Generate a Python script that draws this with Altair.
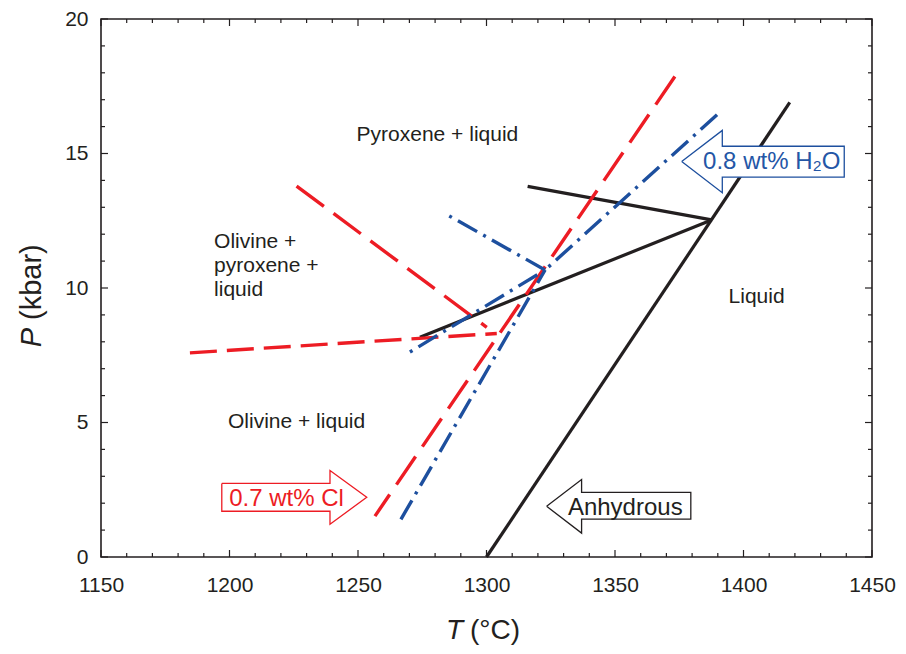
import altair as alt
import pandas as pd

# ---------------- data ----------------
# phase-boundary lines: T (°C), P (kbar)
anhydrous_T = [1300.0, 1418.0]
anhydrous_P = [0.0, 16.9]
blk_lower_T = [1274.1, 1387.6]
blk_lower_P = [8.17, 12.53]
blk_upper_T = [1316.0, 1387.6]
blk_upper_P = [13.78, 12.53]

red_steep_T = [1373.3, 1256.6]
red_steep_P = [17.86, 1.52]
red_diag_T = [1226.1, 1300.1]
red_diag_P = [13.79, 8.54]
red_horiz_T = [1184.6, 1304.0]
red_horiz_P = [7.59, 8.31]

blue_steep_T = [1266.7, 1322.8]
blue_steep_P = [1.40, 10.67]
blue_up_T = [1389.7, 1322.8]
blue_up_P = [16.44, 10.67]
blue_ll_T = [1270.2, 1322.8]
blue_ll_P = [7.62, 10.67]
blue_ul_T = [1285.5, 1322.8]
blue_ul_P = [12.68, 10.67]

# annotation arrows (outline polygons in data units)
arrow_anhyd_T = [1323.4, 1337.0, 1337.0, 1379.5, 1379.5, 1337.0, 1337.0, 1323.4]
arrow_anhyd_P = [1.885, 2.88, 2.40, 2.40, 1.405, 1.405, 0.887, 1.885]
arrow_cl_T = [1197.0, 1239.1, 1239.1, 1253.4, 1239.1, 1239.1, 1197.0, 1197.0]
arrow_cl_P = [2.736, 2.736, 3.216, 2.218, 1.22, 1.70, 1.70, 2.736]
arrow_h2o_T = [1375.95, 1391.75, 1391.75, 1439.2, 1439.2, 1391.75, 1391.75, 1375.95]
arrow_h2o_P = [14.70, 15.86, 15.27, 15.27, 14.12, 14.12, 13.54, 14.70]

# region labels
region_text = ["Pyroxene + liquid", "Olivine +", "pyroxene +", "liquid", "Liquid", "Olivine + liquid"]
region_T = [1280.9, 1194.0, 1194.0, 1194.0, 1405.1, 1226.1]
region_P = [15.47, 11.50, 10.61, 9.72, 9.46, 4.79]
region_align = ["center", "left", "left", "left", "center", "center"]

arrow_text = ["Anhydrous", "0.7 wt% Cl", "0.8 wt% H\u2082O"]
arrow_text_T = [1354.0, 1222.2, 1411.0]
arrow_text_P = [1.553, 1.897, 14.43]

x_major = [1150, 1200, 1250, 1300, 1350, 1400, 1450]
x_minor = [t for t in range(1150, 1451, 10) if t % 50 != 0]
y_major = [0, 5, 10, 15, 20]
y_minor = [p for p in range(0, 21) if p % 5 != 0]

# ---------------- styling ----------------
BLACK = "#231f20"
RED = "#ed1c24"
BLUE = "#1d4f9e"
BLUE_TXT = "#2456a6"
FONT = "Liberation Sans"
W, H = 771, 538


def line_df(name, T, P):
    return pd.DataFrame({"line": name, "T": T, "P": P, "order": list(range(len(T)))})


X = alt.X("T:Q", scale=alt.Scale(domain=[1150, 1450], nice=False, zero=False),
          axis=alt.Axis(values=x_major, ticks=False, domain=False, grid=False,
                        labelFontSize=21, labelFont=FONT, labelColor=BLACK,
                        labelPadding=17, labelFlush=False, labelOverlap=False,
                        format="d", title=None))
Y = alt.Y("P:Q", scale=alt.Scale(domain=[0, 20], nice=False, zero=False),
          axis=alt.Axis(values=y_major, ticks=False, domain=False, grid=False,
                        labelFontSize=21, labelFont=FONT, labelColor=BLACK,
                        labelPadding=13, labelFlush=False, labelOverlap=False,
                        format="d", title=None))


def lines_layer(dfs, color, width, dash=None, offset=0):
    df = pd.concat(dfs, ignore_index=True)
    kw = dict(color=color, strokeWidth=width, strokeCap="butt")
    if dash:
        kw["strokeDash"] = dash
        if offset:
            kw["strokeDashOffset"] = offset
    return alt.Chart(df).mark_line(**kw).encode(x=X, y=Y, detail="line:N", order="order:Q")


black = lines_layer([line_df("anhyd", anhydrous_T, anhydrous_P),
                     line_df("bl", blk_lower_T, blk_lower_P),
                     line_df("bu", blk_upper_T, blk_upper_P)], BLACK, 3.2)
red_long = lines_layer([line_df("rs", red_steep_T, red_steep_P),
                        line_df("rd", red_diag_T, red_diag_P)], RED, 3.4, [34, 12])
red_h = lines_layer([line_df("rh", red_horiz_T, red_horiz_P)], RED, 3.4, [27, 10])
blue_a = lines_layer([line_df("bs", blue_steep_T, blue_steep_P),
                      line_df("bup", blue_up_T, blue_up_P)], BLUE, 3.4, [22, 7, 3, 7])
blue_b = lines_layer([line_df("bll", blue_ll_T, blue_ll_P),
                      line_df("bul", blue_ul_T, blue_ul_P)], BLUE, 3.4, [22, 7, 3, 7], 29)


def arrow_layer(name, T, P, color):
    df = line_df(name, T, P)
    return alt.Chart(df).mark_line(color=color, fill="white", strokeWidth=1.3,
                                   strokeJoin="miter").encode(x=X, y=Y, order="order:Q")


arrows = [arrow_layer("a1", arrow_anhyd_T, arrow_anhyd_P, BLACK),
          arrow_layer("a2", arrow_cl_T, arrow_cl_P, RED),
          arrow_layer("a3", arrow_h2o_T, arrow_h2o_P, BLUE)]

region_df = pd.DataFrame({"text": region_text, "T": region_T, "P": region_P, "align": region_align})
region_layers = []
for al in ["left", "center"]:
    region_layers.append(
        alt.Chart(region_df[region_df["align"] == al]).mark_text(
            font=FONT, fontSize=21, color=BLACK, align=al, baseline="alphabetic"
        ).encode(x=X, y=Y, text="text:N"))

arrow_txt_df = pd.DataFrame({"text": arrow_text, "T": arrow_text_T, "P": arrow_text_P,
                             "c": [BLACK, RED, BLUE_TXT]})
arrow_txt = alt.Chart(arrow_txt_df).mark_text(
    font=FONT, fontSize=24, align="center", baseline="alphabetic"
).encode(x=X, y=Y, text="text:N", color=alt.Color("c:N", scale=None))

# inward ticks on all four sides
xmaj_df = pd.DataFrame({"T": x_major})
xmin_df = pd.DataFrame({"T": x_minor})
ymaj_df = pd.DataFrame({"P": y_major})
ymin_df = pd.DataFrame({"P": y_minor})
tick_layers = []
for df, ln in [(xmaj_df, 7), (xmin_df, 4)]:
    tick_layers.append(alt.Chart(df).mark_rule(color=BLACK, strokeWidth=1.2).encode(
        x=X, y=alt.value(H), y2=alt.value(H - ln)))
    tick_layers.append(alt.Chart(df).mark_rule(color=BLACK, strokeWidth=1.2).encode(
        x=X, y=alt.value(0), y2=alt.value(ln)))
for df, ln in [(ymaj_df, 7), (ymin_df, 4)]:
    tick_layers.append(alt.Chart(df).mark_rule(color=BLACK, strokeWidth=1.2).encode(
        y=Y, x=alt.value(0), x2=alt.value(ln)))
    tick_layers.append(alt.Chart(df).mark_rule(color=BLACK, strokeWidth=1.2).encode(
        y=Y, x=alt.value(W), x2=alt.value(W - ln)))

# axis titles with italic variable symbols
one = pd.DataFrame({"a": [0]})
xt1 = alt.Chart(one).mark_text(text="T", font=FONT, fontStyle="italic", fontSize=28,
                               color=BLACK, align="right", baseline="alphabetic").encode(
    x=alt.value(362), y=alt.value(620))
xt2 = alt.Chart(one).mark_text(text="(°C)", font=FONT, fontSize=28, dx=7,
                               color=BLACK, align="left", baseline="alphabetic").encode(
    x=alt.value(362), y=alt.value(620))
yt1 = alt.Chart(one).mark_text(text="P", font=FONT, fontStyle="italic", fontSize=29, angle=270,
                               color=BLACK, align="right", baseline="middle").encode(
    x=alt.value(-69), y=alt.value(309))
yt2 = alt.Chart(one).mark_text(text="(kbar)", font=FONT, fontSize=29, angle=270, dx=8,
                               color=BLACK, align="left", baseline="middle").encode(
    x=alt.value(-69), y=alt.value(309))

chart = alt.layer(
    black, red_long, red_h, blue_a, blue_b, *arrows, *region_layers, arrow_txt,
    *tick_layers, xt1, xt2, yt1, yt2
).properties(
    width=W, height=H, autosize="none",
    padding={"left": 93, "top": 11, "right": 26, "bottom": 89},
    background="white",
).configure_view(stroke=BLACK, strokeWidth=1.6)

chart.save("out.html", embed_options={"renderer": "svg", "actions": False})
